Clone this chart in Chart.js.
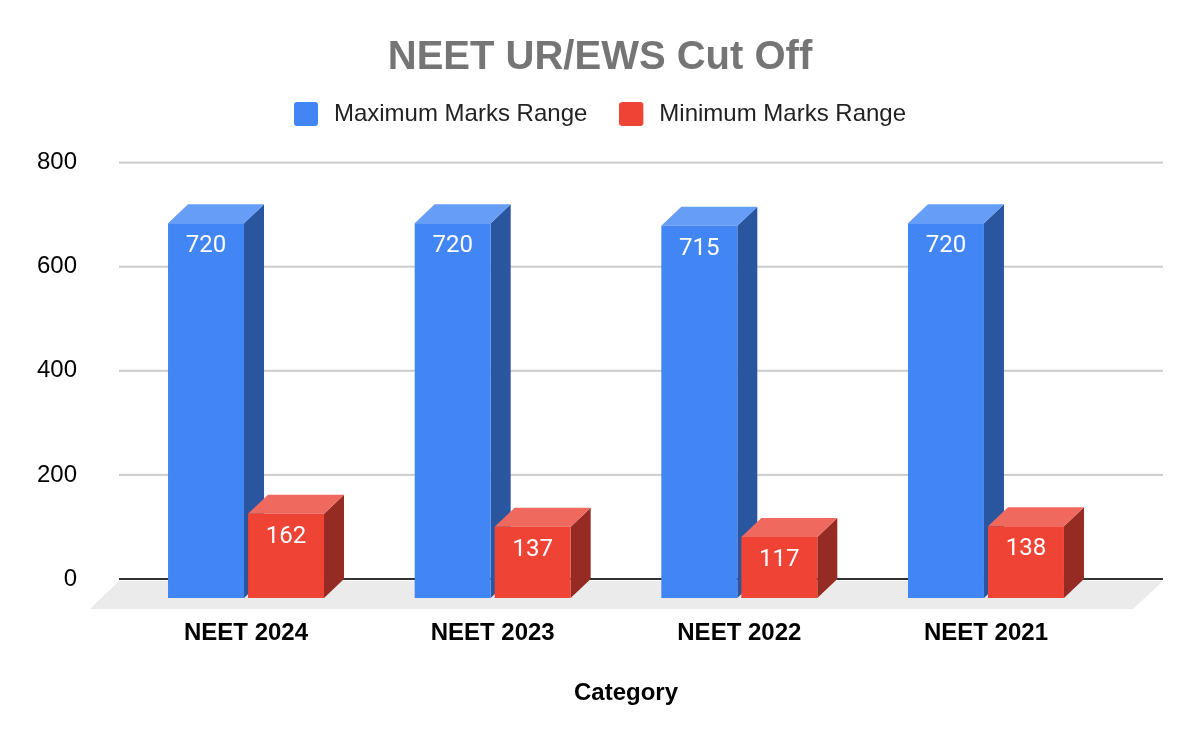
<!DOCTYPE html>
<html>
<head>
<meta charset="utf-8">
<style>html,body{margin:0;padding:0;background:#fff}canvas{display:block}</style>
<script src="https://cdn.jsdelivr.net/npm/chart.js@4"></script>
</head>
<body>
<canvas id="c" width="1200" height="742"></canvas>
<script>
const categories = ['NEET 2024', 'NEET 2023', 'NEET 2022', 'NEET 2021'];
const maximumMarks = [720, 720, 715, 720];
const minimumMarks = [162, 137, 117, 138];
const seriesNames = ['Maximum Marks Range', 'Minimum Marks Range'];

const SANS = '"Liberation Sans", Arial, sans-serif';
const DEPTH_X = 20, DEPTH_Y = 19;
const palette = [
  { front: '#4285f4', side: '#2a56a0', top: '#669df6' },
  { front: '#ee4335', side: '#962b23', top: '#f0695e' }
];

function swatch(color) {
  const s = document.createElement('canvas');
  s.width = 28; s.height = 24;
  const g = s.getContext('2d');
  g.fillStyle = color;
  g.beginPath();
  g.roundRect(0, 0, 24, 24, 3);
  g.fill();
  return s;
}
const swatches = palette.map(p => swatch(p.front));

function poly(ctx, color, pts) {
  ctx.fillStyle = color;
  ctx.beginPath();
  pts.forEach((p, i) => i ? ctx.lineTo(p[0], p[1]) : ctx.moveTo(p[0], p[1]));
  ctx.closePath();
  ctx.fill();
}

const depthPlugin = {
  id: 'depth',
  beforeDatasetsDraw(chart) {
    const ctx = chart.ctx, y = chart.scales.y, zero = y.getPixelForValue(0);
    const gridL = 119, gridR = 1163;
    ctx.save();
    poly(ctx, '#ebebeb', [[gridL, zero + 2], [gridR, zero + 2], [gridR - 30, zero + 30], [gridL - 29, zero + 30]]);
    y.ticks.forEach(t => {
      const py = y.getPixelForValue(t.value);
      ctx.fillStyle = t.value === 0 ? '#333333' : '#cccccc';
      ctx.fillRect(gridL, py - 1, gridR - gridL, 2);
    });
    chart.data.datasets.forEach((ds, di) => {
      chart.getDatasetMeta(di).data.forEach(el => {
        const l = el.x - el.width / 2, r = el.x + el.width / 2;
        const t = el.y + DEPTH_Y, b = el.base + DEPTH_Y;
        poly(ctx, palette[di].side, [[r, t], [r + DEPTH_X, t - DEPTH_Y], [r + DEPTH_X, b - DEPTH_Y], [r, b]]);
        poly(ctx, palette[di].top, [[l, t], [l + DEPTH_X, t - DEPTH_Y], [r + DEPTH_X, t - DEPTH_Y], [r, t]]);
      });
    });
    ctx.restore();
  },
  beforeDatasetDraw(chart) {
    chart.ctx.save();
    chart.ctx.translate(0, DEPTH_Y);
  },
  afterDatasetDraw(chart) {
    chart.ctx.restore();
  },
  afterDatasetsDraw(chart) {
    const ctx = chart.ctx;
    ctx.save();
    ctx.font = '24px Roboto';
    ctx.fillStyle = '#ffffff';
    ctx.textAlign = 'center';
    ctx.textBaseline = 'middle';
    chart.data.datasets.forEach((ds, di) => {
      chart.getDatasetMeta(di).data.forEach((el, i) => {
        ctx.fillText(String(ds.data[i]), el.x, el.y + DEPTH_Y + 23);
      });
    });
    ctx.restore();
  }
};

const hiddenAxis = {
  display: true,
  grid: { display: false, drawTicks: false },
  border: { display: false },
  ticks: { display: false }
};

new Chart(document.getElementById('c'), {
  type: 'bar',
  plugins: [depthPlugin],
  data: {
    labels: categories,
    datasets: [
      { label: seriesNames[0], data: maximumMarks, backgroundColor: palette[0].front, clip: false, xAxisID: 'x', yAxisID: 'y' },
      { label: seriesNames[1], data: minimumMarks, backgroundColor: palette[1].front, clip: false, xAxisID: 'x', yAxisID: 'y' }
    ]
  },
  options: {
    responsive: false,
    animation: false,
    devicePixelRatio: 1,
    categoryPercentage: 0.6487,
    barPercentage: 0.95,
    layout: { padding: 0 },
    plugins: {
      tooltip: { enabled: false },
      title: {
        display: true,
        text: 'NEET UR/EWS Cut Off',
        color: '#757575',
        font: { family: SANS, size: 40, weight: 'bold', lineHeight: 1.2 },
        padding: { top: 34, bottom: -12 }
      },
      legend: {
        display: true,
        position: 'top',
        labels: {
          color: '#222222',
          font: { family: SANS, size: 24, lineHeight: 1.417 },
          padding: 32,
          usePointStyle: true,
          pointStyleWidth: 28,
          boxHeight: 24,
          generateLabels(chart) {
            return Chart.defaults.plugins.legend.labels.generateLabels(chart).map((it, i) => {
              it.pointStyle = swatches[i];
              return it;
            });
          }
        }
      }
    },
    scales: {
      x: {
        grid: { display: false, drawTicks: false },
        border: { display: false },
        ticks: { color: '#000000', font: { family: SANS, size: 24, weight: 'bold' }, padding: 40, maxRotation: 0 },
        title: {
          display: true,
          text: 'Category',
          color: '#000000',
          font: { family: SANS, size: 24, weight: 'bold' },
          padding: { top: 0, bottom: 34 }
        },
        afterFit(s) { s.height = 163; },
        afterUpdate(s) {
          if (s._titleShifted) return;
          s._titleShifted = true;
          const draw = s.drawTitle;
          s.drawTitle = function () {
            this.ctx.save();
            this.ctx.translate(10, 0);
            draw.call(this);
            this.ctx.restore();
          };
        }
      },
      y: {
        min: 0,
        max: 800,
        grid: { display: false, drawTicks: false },
        border: { display: false },
        ticks: { stepSize: 200, color: '#000000', font: { family: SANS, size: 24 }, padding: 45.7 },
        afterFit(s) { s.width = 122.7; }
      },
      spacerRight: Object.assign({}, hiddenAxis, {
        type: 'linear', axis: 'y', position: 'right',
        afterFit(s) { s.width = 90.7; }
      }),
      spacerTop: Object.assign({}, hiddenAxis, {
        type: 'linear', axis: 'x', position: 'top',
        afterFit(s) { s.height = 26.6; }
      })
    }
  }
});
</script>
</body>
</html>
